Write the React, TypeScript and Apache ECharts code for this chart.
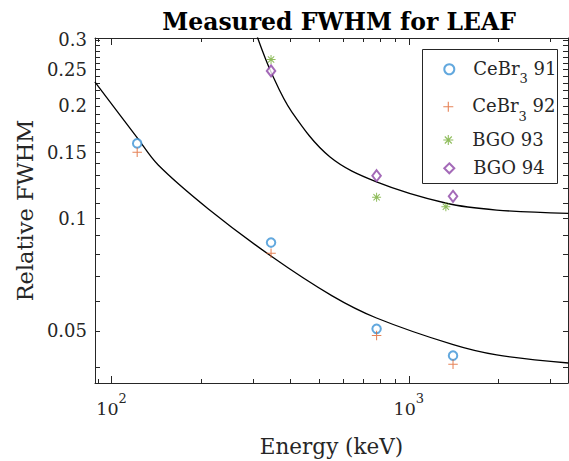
import React, { useEffect, useRef } from 'react';
import * as echarts from 'echarts';

// Measured data points (energy in keV, relative FWHM)
const energyCeBr = [122, 344, 779, 1408];
const cebr91 = [0.1586, 0.0861, 0.0506, 0.0429];
const cebr92 = [0.1501, 0.0806, 0.0486, 0.0407];
const energyBgo93 = [344, 779, 1332];
const bgo93 = [0.2659, 0.1138, 0.1074];
const energyBgo94 = [344, 779, 1408];
const bgo94 = [0.2479, 0.13, 0.1145];

// Fit curves
const fitCeBrEnergy = [87.9, 121.4, 143.6, 211.7, 345.7, 550.4, 778.4, 1410, 1974, 3440];
const fitCeBrValue = [0.2317, 0.1652, 0.1388, 0.1059, 0.079, 0.0621, 0.0541, 0.0459, 0.0431, 0.041];
const fitBgoEnergy = [309.5, 345.7, 403.8, 542, 778.4, 1339, 1974, 3440];
const fitBgoValue = [0.305, 0.244, 0.1926, 0.1461, 0.1252, 0.1097, 0.1052, 0.1031];

// Ticks
const xMajorTicks = [100, 1000];
const xTickExponents = ['2', '3'];
const xMinorTicks = [90, 200, 300, 400, 500, 600, 700, 800, 900, 2000, 3000];
const yMajorTicks = [0.05, 0.1, 0.15, 0.2, 0.25, 0.3];
const yTickLabels = ['0.05', '0.1', '0.15', '0.2', '0.25', '0.3'];
const yMinorTicks = [
  0.04, 0.06, 0.07, 0.08, 0.09, 0.11, 0.12, 0.13, 0.14, 0.16, 0.17, 0.18, 0.19,
  0.21, 0.22, 0.23, 0.24, 0.26, 0.27, 0.28, 0.29,
];

const seriesNames = ['CeBr3 91', 'CeBr3 92', 'BGO 93', 'BGO 94'];
const legendRowCenters = [69.3, 106.7, 140, 168.3];

const X_MIN = 88;
const X_MAX = 3430;
const Y_MIN = 0.03625;
const Y_MAX = 0.3036;

const FONT = 'DejaVu Serif';
const TEXT = '#262626';
const AXIS = '#262626';
const COLORS = ['#3b92d6', '#e0642e', '#74ad35', '#8d45a6'];

const PLUS = 'path://M4.45,0H5.55V4.45H10V5.55H5.55V10H4.45V5.55H0V4.45H4.45Z';
const STAR =
  'path://M0,4.45H10V5.55H0Z M4.45,0H5.55V10H4.45Z M1.11,1.89L1.89,1.11L8.89,8.11L8.11,8.89Z M8.11,1.11L8.89,1.89L1.89,8.89L1.11,8.11Z';

const zip = (xs: number[], ys: number[]) => xs.map((x, i) => [x, ys[i]]);

function makeXAxis(position: 'bottom' | 'top', major: boolean, withLabels: boolean) {
  return {
    type: 'log',
    logBase: 10,
    min: X_MIN,
    max: X_MAX,
    position,
    axisLine: { show: major, lineStyle: { color: AXIS, width: 1 } },
    axisTick: {
      show: true,
      inside: true,
      length: major ? 7 : 4,
      customValues: major ? xMajorTicks : xMinorTicks,
      lineStyle: { color: AXIS, width: 1 },
    },
    axisLabel: withLabels
      ? {
          show: true,
          customValues: xMajorTicks,
          margin: 9,
          formatter: (v: number) => {
            const i = xMajorTicks.findIndex((t) => Math.abs(t - v) / t < 1e-6);
            return '{b|10}{s|' + (i >= 0 ? xTickExponents[i] : '') + '}';
          },
          rich: {
            b: { fontFamily: FONT, fontSize: 17.5, color: TEXT, lineHeight: 26, verticalAlign: 'bottom' },
            s: { fontFamily: FONT, fontSize: 13, color: TEXT, lineHeight: 13, verticalAlign: 'top' },
          },
        }
      : { show: false },
    splitLine: { show: false },
    minorTick: { show: false },
    minorSplitLine: { show: false },
    ...(withLabels
      ? {
          name: 'Energy (keV)',
          nameLocation: 'middle',
          nameGap: 52,
          nameTextStyle: { fontFamily: FONT, fontSize: 21.5, color: TEXT },
        }
      : {}),
  };
}

function makeYAxis(position: 'left' | 'right', major: boolean, withLabels: boolean) {
  return {
    type: 'log',
    logBase: 10,
    min: Y_MIN,
    max: Y_MAX,
    position,
    axisLine: { show: major, lineStyle: { color: AXIS, width: 1 } },
    axisTick: {
      show: true,
      inside: true,
      length: 5,
      customValues: major ? yMajorTicks : yMinorTicks,
      lineStyle: { color: AXIS, width: 1 },
    },
    axisLabel: withLabels
      ? {
          show: true,
          customValues: yMajorTicks,
          margin: 8,
          fontFamily: FONT,
          fontSize: 18,
          color: TEXT,
          formatter: (v: number) => {
            const i = yMajorTicks.findIndex((t) => Math.abs(t - v) / t < 1e-6);
            return i >= 0 ? yTickLabels[i] : '';
          },
        }
      : { show: false },
    splitLine: { show: false },
    minorTick: { show: false },
    minorSplitLine: { show: false },
    ...(withLabels
      ? {
          name: 'Relative FWHM',
          nameLocation: 'middle',
          nameGap: 52,
          nameTextStyle: { fontFamily: FONT, fontSize: 22.5, color: TEXT },
        }
      : {}),
  };
}

function makeLegend(i: number) {
  const hasSub = seriesNames[i].startsWith('CeBr3');
  const num = seriesNames[i].split(' ')[1];
  return {
    show: true,
    data: [seriesNames[i]],
    left: 443.3,
    top: legendRowCenters[i] - 10,
    orient: 'vertical',
    padding: 0,
    itemWidth: 10,
    itemHeight: 10,
    selectedMode: false,
    z: 10,
    formatter: () =>
      hasSub ? '{p|}{n|CeBr}{sub|3}{n| ' + num + '}' : '{p|}{n|' + seriesNames[i] + '}',
    textStyle: {
      fontFamily: FONT,
      fontSize: 18,
      color: TEXT,
      rich: {
        p: { width: 14 },
        n: { fontFamily: FONT, fontSize: 18, color: TEXT, lineHeight: 20, verticalAlign: 'top' },
        sub: {
          fontFamily: FONT,
          fontSize: 13,
          color: TEXT,
          lineHeight: 13,
          verticalAlign: 'bottom',
          padding: [0, 0, -6, 0],
        },
      },
    },
  };
}

export default function App() {
  const ref = useRef<HTMLDivElement>(null);

  useEffect(() => {
    if (!ref.current) return;
    const chart = echarts.init(ref.current, null, { renderer: 'svg' });

    const scatterBase = { type: 'scatter', xAxisIndex: 0, yAxisIndex: 0, z: 5 };

    chart.setOption({
      animation: false,
      backgroundColor: '#ffffff',
      title: {
        text: 'Measured FWHM for LEAF',
        left: 334,
        top: 5,
        textAlign: 'center',
        textStyle: { fontFamily: FONT, fontSize: 23.5, fontWeight: 'bold', color: '#000000' },
      },
      grid: { left: 95, right: 1, top: 38, bottom: 78, containLabel: false, outerBoundsMode: 'none' },
      xAxis: [
        makeXAxis('bottom', true, true),
        makeXAxis('bottom', false, false),
        makeXAxis('top', true, false),
        makeXAxis('top', false, false),
      ],
      yAxis: [
        makeYAxis('left', true, true),
        makeYAxis('left', false, false),
        makeYAxis('right', true, false),
        makeYAxis('right', false, false),
      ],
      legend: [0, 1, 2, 3].map(makeLegend),
      graphic: [
        {
          type: 'rect',
          shape: { x: 422.5, y: 49.5, width: 135, height: 134 },
          style: { fill: '#ffffff', stroke: '#262626', lineWidth: 1 },
          z: 8,
        },
      ],
      series: [
        {
          type: 'line',
          name: 'fitCeBr',
          data: zip(fitCeBrEnergy, fitCeBrValue),
          smooth: 0.35,
          symbol: 'none',
          lineStyle: { color: '#000000', width: 1.3 },
          silent: true,
          z: 3,
        },
        {
          type: 'line',
          name: 'fitBgo',
          data: zip(fitBgoEnergy, fitBgoValue),
          smooth: 0.35,
          symbol: 'none',
          lineStyle: { color: '#000000', width: 1.3 },
          silent: true,
          z: 3,
        },
        {
          ...scatterBase,
          name: seriesNames[0],
          data: zip(energyCeBr, cebr91),
          symbol: 'emptyCircle',
          symbolSize: 8.5,
          itemStyle: { color: COLORS[0], borderColor: COLORS[0], borderWidth: 1.1 },
        },
        {
          ...scatterBase,
          name: seriesNames[1],
          data: zip(energyCeBr, cebr92),
          symbol: PLUS,
          symbolSize: 9.5,
          itemStyle: { color: COLORS[1] },
        },
        {
          ...scatterBase,
          name: seriesNames[2],
          data: zip(energyBgo93, bgo93),
          symbol: STAR,
          symbolSize: 9,
          itemStyle: { color: COLORS[2] },
        },
        {
          ...scatterBase,
          name: seriesNames[3],
          data: zip(energyBgo94, bgo94),
          symbol: 'emptyDiamond',
          symbolSize: [8.5, 11],
          itemStyle: { color: COLORS[3], borderColor: COLORS[3], borderWidth: 1.1 },
        },
      ],
    });

    return () => chart.dispose();
  }, []);

  return (
    <div
      ref={ref}
      style={{ position: 'fixed', left: 0, top: 0, width: 569, height: 461, background: '#fff' }}
    />
  );
}
